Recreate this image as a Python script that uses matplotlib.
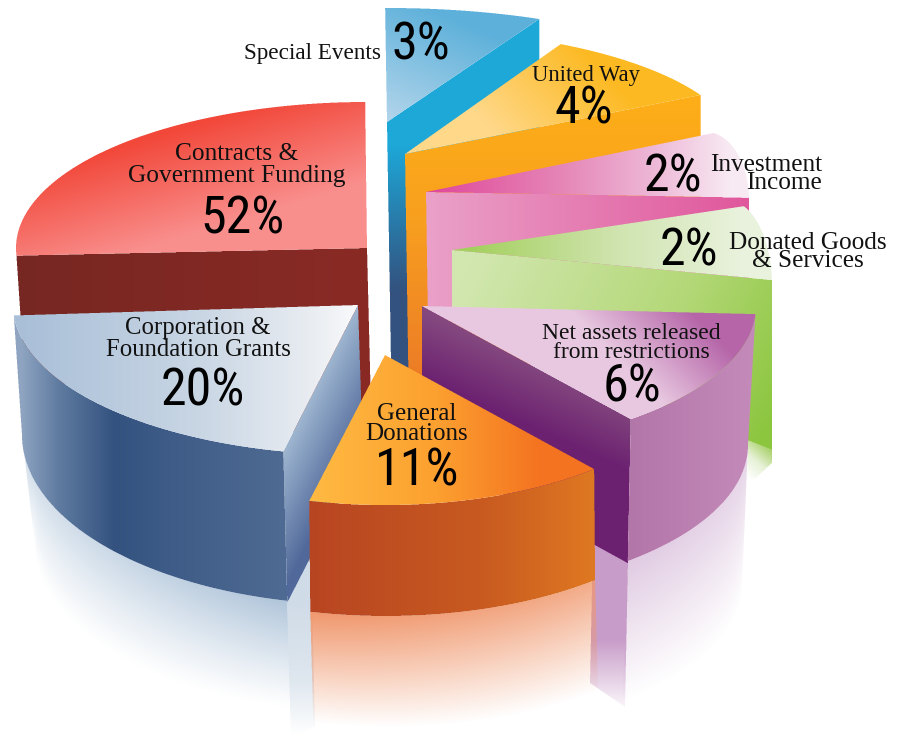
import numpy as np
import matplotlib
matplotlib.use("Agg")
import matplotlib.pyplot as plt
from matplotlib.path import Path
from matplotlib.colors import to_rgb

# ---- chart content ----
categories = ["Contracts &\nGovernment Funding", "Corporation &\nFoundation Grants",
              "General\nDonations", "Net assets released\nfrom restrictions",
              "Donated Goods\n& Services", "Investment\nIncome", "United Way", "Special Events"]
values = [52, 20, 11, 6, 2, 2, 4, 3]

# ---- drawn geometry of each wedge (the artwork's spans are not proportional) ----
apex_x = [367, 358, 385, 422, 452, 426, 405, 387]
apex_y = [248, 305, 355, 306, 250, 192, 154, 122]
arc_cx = [367, 358, 385, 422, 727, 706, 405, 387]
arc_cy = [248, 305, 355, 306, 285, 200, 154, 122]
arc_rx = [351, 345, 322, 334, 45, 43, 336, 355]
arc_ry = [146, 150, 150, 145, 85, 68, 124, 114]
arc_from = [177, 102.5, 49.5, 3.2, -3.4, -2, -28.4, -64.6]
arc_to = [269.7, 176, 103.6, 51.3, -68, -80, -62.4, -90.3]

CONTRACTS, CORP, GENERAL, NET, DONATED, INVEST, UNITED, SPECIAL = range(8)

fig = plt.figure(figsize=(9, 7.36), dpi=100)
ax = fig.add_axes([0, 0, 1, 1])
ax.axis("off")
W, H = 900, 736
SS = 3


def ell(cx, cy, rx, ry, t0, t1, n=90):
    t = np.radians(np.linspace(t0, t1, n))
    return np.column_stack([cx + rx * np.cos(t), cy + ry * np.sin(t)])


def arc(i):
    return ell(arc_cx[i], arc_cy[i], arc_rx[i], arc_ry[i], arc_from[i], arc_to[i])


def apex(i):
    return np.array([apex_x[i], apex_y[i]], float)


def rgba_stops(stops):
    ts = np.array([s[0] for s in stops], float)
    cols = np.array([to_rgb(s[1]) for s in stops])
    al = np.array([s[2] if len(s) > 2 else 1.0 for s in stops], float)
    return ts, cols, al


def lin(p0, p1, stops):
    ts, cols, al = rgba_stops(stops)
    p0 = np.array(p0, float)
    d = np.array(p1, float) - p0

    def f(X, Y):
        t = ((X - p0[0]) * d[0] + (Y - p0[1]) * d[1]) / (d @ d)
        t = np.clip(t, ts[0], ts[-1])
        out = np.zeros(X.shape + (4,))
        for c in range(3):
            out[..., c] = np.interp(t, ts, cols[:, c])
        out[..., 3] = np.interp(t, ts, al)
        return out
    return f


def shade(poly, colorfn, z=1):
    poly = np.asarray(poly, float)
    x0 = max(int(np.floor(poly[:, 0].min())) - 1, 0)
    x1 = min(int(np.ceil(poly[:, 0].max())) + 1, W)
    y0 = max(int(np.floor(poly[:, 1].min())) - 1, 0)
    y1 = min(int(np.ceil(poly[:, 1].max())) + 1, H)
    w, h = x1 - x0, y1 - y0
    sx = x0 + (np.arange(w * SS) + .5) / SS
    sy = y0 + (np.arange(h * SS) + .5) / SS
    GX, GY = np.meshgrid(sx, sy)
    inside = Path(poly).contains_points(np.column_stack([GX.ravel(), GY.ravel()]))
    mask = inside.reshape(GX.shape).reshape(h, SS, w, SS).mean(axis=(1, 3))
    X, Y = np.meshgrid(x0 + np.arange(w) + .5, y0 + np.arange(h) + .5)
    img = colorfn(X, Y)
    img[..., 3] *= mask
    ax.imshow(img, extent=(x0, x1, y1, y0), interpolation="nearest", aspect="auto", zorder=z)


def wall(i, end, drop_apex, drop_end, colorfn):
    a, e = apex(i), np.asarray(end, float)
    shade([a, e, e + drop_end, a + drop_apex], colorfn)


def top(i, colorfn):
    shade(np.vstack([apex(i), arc(i)]), colorfn)


def fade(upper, lower, colour, power=1.0, weight=(1.0, 1.0)):
    upper = upper[np.argsort(upper[:, 0])]
    lower = lower[np.argsort(lower[:, 0])]
    rgb = to_rgb(colour)
    xa, xb = upper[0, 0], upper[-1, 0]

    def f(X, Y):
        yu = np.interp(X, upper[:, 0], upper[:, 1])
        yl = np.interp(X, lower[:, 0], lower[:, 1])
        t = np.clip((Y - yu) / (yl - yu), 0, 1)
        out = np.zeros(X.shape + (4,))
        out[..., :3] = rgb
        fx = np.clip((X - xa) / (xb - xa), 0, 1)
        out[..., 3] = (1 - t) ** power * (weight[0] + (weight[1] - weight[0]) * fx)
        return out
    shade(np.vstack([upper, lower[::-1]]), f)


# ---- back wedges ----
i = SPECIAL
wall(i, arc(i)[0], (5, 300), (0, 200),
     lin((0, 145), (0, 290), [(0, "#1da8d8"), (1, "#33527f")]))
top(i, lin((445, 12), (398, 118), [(0, "#5cb0da"), (1, "#aed3ea")]))

i = UNITED
wall(i, arc(i)[0], (4, 260), (0, 200),
     lin((0, 110), (0, 375), [(0, "#fdad18"), (.4, "#f8a01f"), (1, "#ec7c26")]))
top(i, lin((605, 70), (515, 155), [(0, "#fcb921"), (1, "#ffd88a")]))

i = INVEST
wall(i, arc(i)[0], (2, 130), (0, 100),
     lin((426, 0), (749, 0), [(0, "#eaa1c8"), (1, "#e0579c")]))
top(i, lin((430, 0), (730, 0), [(0, "#e0489a"), (.43, "#e584b6"), (.73, "#edb5d5"), (1, "#f8eaf3")]))

# faded foot of the green wedge
shade([(748, 440), (772, 450), (772, 463), (747, 486)],
      lin((748, 478), (772, 450), [(0, "#ffffff"), (.5, "#e6f1d6"), (1, "#a8d068")]))
i = DONATED
wall(i, arc(i)[0], (0, 70), (0, 170),
     lin((470, 265), (772, 420), [(0, "#d2e7b0"), (.6, "#b4d878"), (1, "#8cc63f")]))
top(i, lin((470, 0), (740, 0), [(0, "#a4d05e"), (.55, "#d0e4b0"), (1, "#e9f2dc")]))

i = CONTRACTS
wall(i, arc(i)[0], (5, 200), (8, 120),
     lin((16, 0), (370, 0), [(0, "#772722"), (1, "#8a2a25")]))
top(i, lin((110, 150), (140, 250), [(0, "#f2483a"), (1, "#f98f8d")]))

# ---- net assets: reflection, walls, top ----
net_low = ell(420, 445, 328, 150, 0, 50.7)
net_ref = ell(416, 585, 326, 150, 0, 50.7)
fade(net_low, net_ref, "#e0cae2", power=1.0, weight=(1.0, .75))
shade([(593, 540), (628, 561), (625, 707), (590, 683)],
      lin((0, 640), (0, 705), [(0, "#c89cc8"), (1, "#c89cc8", .12)]))
i = NET
e = arc(i)[-1]
wall(i, e, (0, 144), (-3, 144),
     lin((500, 348), (475, 403), [(0, "#84487f"), (1, "#6b2070")]))
shade(np.vstack([arc(i), net_low[::-1]]),
      lin((628, 0), (755, 0), [(0, "#b276a8"), (1, "#c48bba")]))
top(i, lin((620, 360), (680, 300), [(0, "#e8c8e0"), (1, "#b565a8")]))

# ---- corporation: reflection, walls, top ----
corp_low = ell(362, 435, 340, 170, 102.7, 180)
corp_ref = ell(365, 545, 330, 167, 102.7, 180)
fade(corp_low, corp_ref, "#b0c5da", power=1.1, weight=(.5, 1.0))
shade([(287, 603), (311, 553), (315, 726), (291, 738)],
      lin((0, 600), (0, 735), [(0, "#cfdbe7"), (.6, "#dfe7ef"), (1, "#ffffff")]))
i = CORP
a_pts = arc(i)
wall(i, a_pts[0], (5, 150), (4, 151),
     lin((290, 430), (350, 460), [(0, "#a3bbd3"), (1, "#51699a")]))
shade(np.vstack([a_pts, [(22, 435)], corp_low[::-1]]),
      lin((22, 0), (287, 0), [(0, "#8ea4c1"), (.14, "#5f7ba0"), (.35, "#33527f"), (.56, "#3e5c87"), (1, "#4f6b93")]))
top(i, lin((20, 0), (355, 0), [(0, "#a9bfd8"), (.54, "#c9d6e4"), (.9, "#eceff3"), (1, "#f8f9fb")]))

# ---- general donations ----
i = GENERAL
g_pts = arc(i)
gen_low = g_pts + np.array([1, 111])
gen_ref = g_pts + np.array([4, 222])
fade(gen_low, gen_ref, "#f0976c", power=1.0, weight=(1.0, .8))
shade(np.vstack([g_pts, gen_low[::-1]]),
      lin((310, 0), (594, 0), [(0, "#b84522"), (.6, "#c85a20"), (1, "#df7822")]))
top(i, lin((310, 0), (540, 0), [(0, "#ffba42"), (.55, "#fca030"), (1, "#f47320")]))

# ---- texts ----
SERIF = ["Liberation Serif", "DejaVu Serif"]
NARROW = ["Roboto Condensed", "Liberation Sans", "DejaVu Sans"]
label_xy = [(237, 165), (198, 339), (417, 424), (631, 343), (808, 252), (822, 174), (586, 75), (312, 53)]
label_ha = ["center"] * 5 + ["right"] + ["center"] * 2
label_size = [18.3, 17.8, 18, 17, 18.2, 18.2, 16.3, 16.7]
label_gap = [.95, 1.0, .92, .82, .78, .82, 1, 1]
pct_xy = [(242, 219), (203, 391), (417, 471), (632, 388), (689, 252), (673, 177), (584, 110), (421, 46)]

for k, name in enumerate(categories):
    ax.text(*label_xy[k], name, ha=label_ha[k], va="center", ma=label_ha[k], family=SERIF,
            fontsize=label_size[k], color="#111111", linespacing=label_gap[k], zorder=5)
    ax.text(*pct_xy[k], f"{values[k]}%", ha="center", va="center", family=NARROW, weight=400,
            fontsize=37.5, color="#000000", zorder=5)

ax.set_xlim(0, W)
ax.set_ylim(H, 0)
fig.savefig("out.png", dpi=100, facecolor="white")
